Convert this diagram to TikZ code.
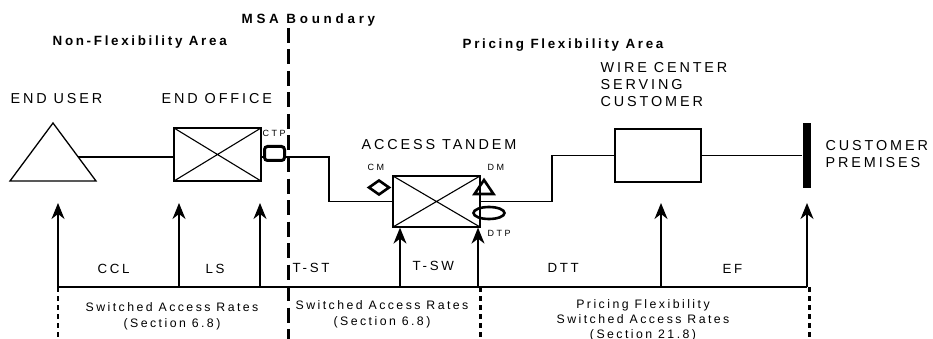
\documentclass[tikz,border=0pt]{standalone}
\usepackage{fontspec}
\setmainfont{Liberation Sans}
\newfontfamily\lsfont[LetterSpace=20]{Liberation Sans}
\newfontfamily\lsfontw[LetterSpace=28]{Liberation Sans}
\usetikzlibrary{arrows.meta,shapes.geometric,calc}
\begin{document}
\begin{tikzpicture}[x=1pt,y=-1pt,
  line width=1.3pt,
  lbl/.style={font=\lsfont\fontsize{14.4}{17}\selectfont, inner sep=0pt, anchor=west},
  seglbl/.style={font=\lsfont\fontsize{13.3}{15}\selectfont, inner sep=0pt, anchor=west},
  smalllbl/.style={font=\lsfontw\fontsize{9}{11}\selectfont, inner sep=0pt, anchor=west},
  title/.style={font=\lsfont\bfseries\fontsize{13.4}{15}\selectfont, inner sep=0pt, anchor=west},
  rate/.style={font=\lsfont\fontsize{12.3}{16}\selectfont, inner sep=0pt, align=center},
  box/.style={draw, rectangle, inner sep=0pt, line width=1.3pt},
  xbox/.style={box, path picture={\draw[line width=1.1pt] (path picture bounding box.north west) -- (path picture bounding box.south east) (path picture bounding box.south west) -- (path picture bounding box.north east);}},
  uparrow/.style={-{Stealth[length=16pt,width=13pt,inset=5pt]}, line width=1.3pt},
  msadash/.style={line width=3pt, dash pattern=on 15pt off 6.5pt},
  thindash/.style={line width=1.6pt, dash pattern=on 5pt off 4pt},
  thickdash/.style={line width=3pt, dash pattern=on 5pt off 4pt},
  symb/.style={line width=2.6pt}
]
\useasboundingbox (0,0) rectangle (933,339);

% titles
\node[title] (nfa) at (52,42) {Non-Flexibility Area};
\node[title, font=\lsfontw\bfseries\fontsize{13.4}{15}\selectfont] (msa) at (241,20) {MSA Boundary};
\node[title] (pfa) at (462,45) {Pricing Flexibility Area};

% MSA boundary line
\coordinate (msaT) at (288,28);
\coordinate (msaB) at (288,339);
\draw[msadash] (msaT) -- (msaB);

% labels
\node[lbl] (leu) at (10,99) {END USER};
\node[lbl] (leo) at (161,99) {END OFFICE};
\node[lbl] (lat) at (361,145) {ACCESS TANDEM};
\node[lbl, align=left, font=\lsfont\fontsize{14.4}{17}\selectfont] (lwc) at (600,85) {WIRE CENTER\\SERVING\\CUSTOMER};
\node[lbl, align=left, font=\lsfont\fontsize{14.4}{17}\selectfont] (lcp) at (825,154.5) {CUSTOMER\\PREMISES};
\node[smalllbl] (lctp) at (262,133.5) {CTP};
\node[smalllbl] (lcm) at (367,167) {CM};
\node[smalllbl] (ldm) at (487,167) {DM};
\node[smalllbl] (ldtp) at (487,233) {DTP};

% end user triangle
\coordinate (euA) at (53,123);
\coordinate (euL) at (10,181);
\coordinate (euR) at (96,181);
\draw (euA) -- (euL) -- (euR) -- cycle;
\coordinate (eu) at (78.2,157);

% end office
\node[xbox, minimum width=87pt, minimum height=53pt] (eo) at (217.5,154.5) {};
\draw (eu) -- (eu -| eo.west);

% CTP
\node[draw, rectangle, rounded corners=3pt, line width=3pt, inner sep=0pt, minimum width=20pt, minimum height=14pt] (ctp) at (274.5,153.5) {};
\draw (eo.east |- eu) -- (ctp.west |- eu);

% access tandem
\node[xbox, minimum width=87pt, minimum height=51pt] (at) at (436.5,201.5) {};
\coordinate (k1) at (329,157);
\draw (ctp.east |- eu) -- (k1) -- (k1 |- at.west) -- (at.west);

% CM diamond
\coordinate (cm) at (379,187.5);
\draw[symb] ($(cm)+(-10,0)$) -- ($(cm)+(0,-7)$) -- ($(cm)+(10,0)$) -- ($(cm)+(0,7)$) -- cycle;

% DM triangle
\coordinate (dmA) at (484,180);
\coordinate (dmL) at (474.5,194);
\coordinate (dmR) at (493.5,194);
\draw[symb, line join=miter] (dmA) -- (dmL) -- (dmR) -- cycle;

% DTP ellipse
\node[draw, ellipse, line width=2.6pt, minimum width=31pt, minimum height=12pt, inner sep=0pt] (dtp) at (489,213) {};

% wire center
\node[box, minimum width=86pt, minimum height=53pt] (wc) at (658,155.5) {};
\coordinate (k3) at (552,155.5);
\draw (at.east) -| (k3) -- (wc.west);

% customer premises bar
\node[fill=black, rectangle, inner sep=0pt, minimum width=8pt, minimum height=65pt] (cp) at (807,155.5) {};
\draw (wc.east) -- (cp.west |- wc.east);

% baseline and arrows
\coordinate (b1) at (58,287);
\coordinate (b2) at (179,287);
\coordinate (b3) at (260,287);
\coordinate (b4) at (400,287);
\coordinate (b5) at (478,287);
\coordinate (b6) at (661,287);
\coordinate (b7) at (807,287);
\draw (b1) -- (b7);
\coordinate (t1) at (58,203);
\coordinate (t2) at (179,203);
\coordinate (t3) at (260,203);
\coordinate (t6) at (661,203);
\coordinate (t7) at (807,203);
\draw[uparrow] (b1) -- (t1);
\draw[uparrow] (b2) -- (t2);
\draw[uparrow] (b3) -- (t3);
\draw[uparrow] (b4) -- (b4 |- at.south);
\draw[uparrow] (b5) -- (b5 |- at.south);
\draw[uparrow] (b6) -- (t6);
\draw[uparrow] (b7) -- (t7);

% dashed separators
\coordinate (d1) at (58,339);
\coordinate (d5) at (480,339);
\coordinate (d7) at (809,339);
\draw[thindash] (b1) -- (d1);
\draw[thickdash] (b5 -| d5) -- (d5);
\draw[thickdash] (b7 -| d7) -- (d7);

% segment labels
\node[seglbl] (lccl) at (97,269) {CCL};
\node[seglbl] (lls) at (205,269) {LS};
\node[seglbl] (ltst) at (292,268) {T-ST};
\node[seglbl] (ltsw) at (412,266) {T-SW};
\node[seglbl] (ldtt) at (547,268) {DTT};
\node[seglbl] (lef) at (722,269) {EF};

% rate labels
\node[rate] (r1) at (172,316) {Switched Access Rates\\(Section 6.8)};
\node[rate] (r2) at (382,314.5) {Switched Access Rates\\(Section 6.8)};
\node[rate, font=\lsfont\fontsize{12.3}{15}\selectfont] (r3) at (643,320) {Pricing Flexibility\\Switched Access Rates\\(Section 21.8)};
\end{tikzpicture}
\end{document}
